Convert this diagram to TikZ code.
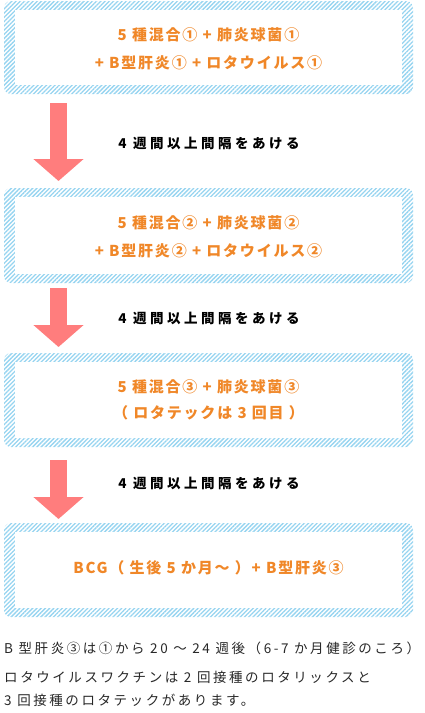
\documentclass[tikz,border=0pt]{standalone}
\usepackage{fontspec}
\setmainfont{Noto Sans CJK JP}
\usetikzlibrary{arrows.meta,patterns.meta,calc}
\definecolor{hatch}{RGB}{150,212,240}
\definecolor{orangetxt}{RGB}{240,135,40}
\definecolor{arrowred}{RGB}{255,125,125}
\definecolor{notetxt}{RGB}{40,40,40}
\begin{document}
\begin{tikzpicture}[x=1pt,y=-1pt,
  box/.style={rounded corners=7pt,
    pattern={Lines[angle=45,distance=3pt,line width=1.3pt]},
    pattern color=hatch, minimum width=409pt, anchor=north west,
    inner sep=0pt, outer sep=0pt},
  otext/.style={align=center, text=orangetxt,
    font=\fontsize{15}{28}\selectfont\bfseries\addfontfeature{LetterSpace=12}},
  lbl/.style={text=black,
    font=\fontsize{13.5}{16}\selectfont\bfseries\addfontfeature{LetterSpace=26}},
  note/.style={text=notetxt, anchor=west, inner sep=0pt,
    font=\fontsize{13.5}{16}\selectfont\addfontfeature{LetterSpace=19}},
  fatarrow/.style={draw=arrowred, line width=17pt,
    -{Triangle[width=49pt,length=22pt]}}]
\useasboundingbox (0,0) rectangle (424,713);

% boxes
\node[box, minimum height=93pt] (b1) at (4,1) {};
\node[box, minimum height=95pt] (b2) at (4,188) {};
\node[box, minimum height=94pt] (b3) at (4,353) {};
\node[box, minimum height=94pt] (b4) at (4,523) {};
\foreach \b in {b1,b2,b3,b4}{
  \fill[white] ($(\b.north west)+(11pt,-9pt)$) rectangle ($(\b.south east)+(-11pt,9pt)$);
}

% box texts
\node[otext] (t1) at ($(b1.center)+(0,-1pt)$) {5 種混合① + 肺炎球菌①\\+ B型肝炎① + ロタウイルス①};
\node[otext] (t2) at ($(b2.center)+(0,-1pt)$) {5 種混合② + 肺炎球菌②\\+ B型肝炎② + ロタウイルス②};
\node[otext, font=\fontsize{15}{26}\selectfont\bfseries\addfontfeature{LetterSpace=12}] (t3) at (b3.center) {5 種混合③ + 肺炎球菌③\\（ ロタテックは 3 回目 ）};
\node[otext] (t4) at ($(b4.center)+(0,2pt)$) {BCG（ 生後 5 か月～ ）+ B型肝炎③};

% arrows
\draw[fatarrow] ($(b1.south west)+(54.5pt,-9pt)$) -- ($(b2.north west)+(54.5pt,7pt)$);
\draw[fatarrow] ($(b2.south west)+(54.5pt,-5pt)$) -- ($(b3.north west)+(54.5pt,6pt)$);
\draw[fatarrow] ($(b3.south west)+(54.5pt,-13pt)$) -- ($(b4.north west)+(54.5pt,4pt)$);

% labels
\node[lbl] (l1) at (209,143) {4 週間以上間隔をあける};
\node[lbl] (l2) at (209,318) {4 週間以上間隔をあける};
\node[lbl] (l3) at (209,483) {4 週間以上間隔をあける};

% notes
\node[note] (n1) at (4,648) {B 型肝炎③は①から 20 ～ 24 週後（6-7 か月健診のころ）};
\node[note] (n2) at (4,677) {ロタウイルスワクチンは 2 回接種のロタリックスと};
\node[note] (n3) at (4,700) {3 回接種のロタテックがあります。};
\end{tikzpicture}
\end{document}
